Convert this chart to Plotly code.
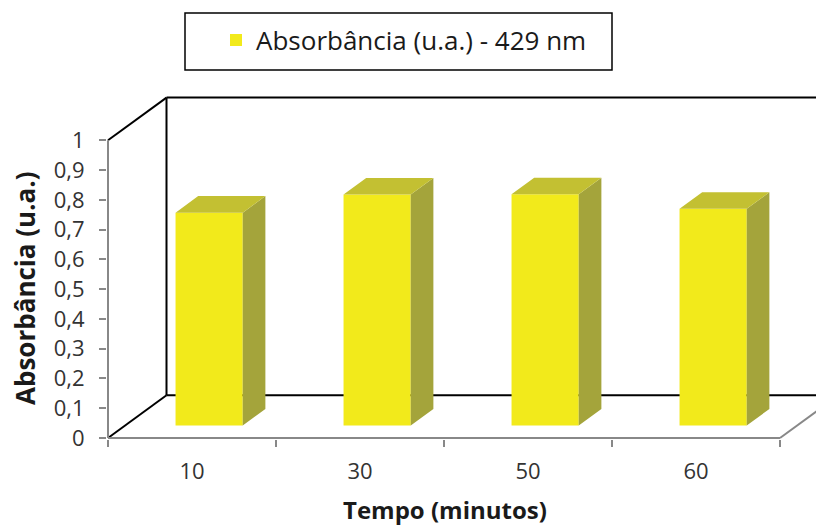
import plotly.graph_objects as go

# data
tempos = ["10", "30", "50", "60"]
absorbancia = [0.715, 0.776, 0.777, 0.728]
y_ticks = [0, 0.1, 0.2, 0.3, 0.4, 0.5, 0.6, 0.7, 0.8, 0.9, 1]
y_labels = ["0", "0,1", "0,2", "0,3", "0,4", "0,5", "0,6", "0,7", "0,8", "0,9", "1"]

# page / plot geometry (px); the html body adds an 8px margin
OFF = 8
W, H = 824 - OFF, 527 - OFF
M_L, M_R, M_T, M_B = 99, 0, 86, 88
PX_X, PX_Y = 168.0, 297.7  # px per category, px per absorbance unit

# oblique projection: depth vector of the full floor, in axis units
DX, DY = 58.5 / PX_X, 42.7 / PX_Y
BAR_W = 0.40
Z0, Z1 = 0.293, 0.68  # bar front / back depth (fraction of floor)

x0 = -0.5 - 1 / PX_X
x1 = x0 + (W - M_L - M_R) / PX_X
y0 = -1 / PX_Y
y1 = y0 + (H - M_T - M_B) / PX_Y

n = len(tempos)
pos = list(range(n))
x_lo, x_hi = -0.5, n - 0.5

FRONT = "#F2EA1B"
TOP = "#C3C032"
SIDE = "#A4A43B"
GRAY = "#888888"
TXT = "#333333"
FONT = "Open Sans"

fig = go.Figure()

# front faces of the bars
xc = [p + Z0 * DX for p in pos]
base = Z0 * DY
fig.add_trace(go.Bar(
    x=xc, y=absorbancia, base=base, width=BAR_W,
    marker=dict(color=FRONT, line=dict(width=0)),
    name="Absorbância (u.a.) - 429 nm", hoverinfo="skip",
))

# top and side faces, projected from the same values
ddx, ddy = (Z1 - Z0) * DX, (Z1 - Z0) * DY
side_x, side_y, top_x, top_y = [], [], [], []
for c, v in zip(xc, absorbancia):
    xl, xr = c - BAR_W / 2, c + BAR_W / 2
    yb, yt = base, base + v
    side_x += [xr, xr, xr + ddx, xr + ddx, xr, None]
    side_y += [yb, yt, yt + ddy, yb + ddy, yb, None]
    top_x += [xl, xr, xr + ddx, xl + ddx, xl, None]
    top_y += [yt, yt, yt + ddy, yt + ddy, yt, None]

fig.add_trace(go.Scatter(x=side_x, y=side_y, fill="toself", fillcolor=SIDE,
                         mode="lines", line=dict(width=0), xaxis="x2",
                         showlegend=False, hoverinfo="skip"))
fig.add_trace(go.Scatter(x=top_x, y=top_y, fill="toself", fillcolor=TOP,
                         mode="lines", line=dict(width=0), xaxis="x2",
                         showlegend=False, hoverinfo="skip"))

# walls and floor edges, behind the bars
def edge(xa, ya, xb, yb, color, w=2):
    fig.add_shape(type="line", xref="x", yref="y", x0=xa, y0=ya, x1=xb, y1=yb,
                  line=dict(color=color, width=w), layer="below")

ytop = y_ticks[-1]
edge(x_lo + DX, DY, x_lo + DX, ytop + DY, "black")          # back wall left
edge(x_lo + DX, ytop + DY, x1 + 1, ytop + DY, "black")      # back wall top
edge(x_lo + DX, DY, x1 + 1, DY, "black")                    # back floor line
edge(x_lo, ytop, x_lo + DX, ytop + DY, "black")             # side wall top
edge(x_lo, 0, x_lo + DX, DY, "black")                       # side floor
edge(x_lo, 0, x_lo, ytop, GRAY)                             # value axis
edge(x_lo, 0, x_hi, 0, GRAY)                                # category axis
edge(x_hi, 0, x_hi + DX, DY, GRAY)                          # floor right edge


# reference-pixel -> paper coordinates
def px_x(p):
    return (p - OFF - M_L) / (W - M_L - M_R)


def px_y(p):
    return (H - M_B - (p - OFF)) / (H - M_T - M_B)


# legend box
fig.add_shape(type="rect", xref="paper", yref="paper",
              x0=px_x(185), x1=px_x(612), y0=px_y(70), y1=px_y(13),
              line=dict(color="black", width=1.5), fillcolor="white")

fig.add_annotation(text="Absorbância (u.a.)", xref="paper", yref="paper",
                   x=px_x(25), y=px_y(289), textangle=-90, showarrow=False,
                   xanchor="center", yanchor="middle",
                   font=dict(family=FONT, size=26, color="#1a1a1a", weight="bold"))
fig.add_annotation(text="Tempo (minutos)", xref="paper", yref="paper",
                   x=px_x(445), y=px_y(509), showarrow=False,
                   xanchor="center", yanchor="middle",
                   font=dict(family=FONT, size=24, color="#1a1a1a", weight="bold"))

fig.update_layout(
    width=W, height=H,
    margin=dict(l=M_L, r=M_R, t=M_T, b=M_B),
    paper_bgcolor="white", plot_bgcolor="white",
    font=dict(family=FONT, color=TXT),
    showlegend=True,
    legend=dict(x=px_x(216), y=px_y(40), xanchor="left", yanchor="middle",
                bgcolor="rgba(0,0,0,0)", borderwidth=0,
                font=dict(family=FONT, size=26, color="#1a1a1a")),
    xaxis=dict(range=[x0, x1], tickvals=pos, ticktext=tempos,
               ticks="outside", ticklen=13, tickcolor="rgba(0,0,0,0)",
               showgrid=False, zeroline=False, showline=False,
               tickfont=dict(size=22, color=TXT), fixedrange=True),
    xaxis2=dict(range=[x0, x1], overlaying="x", anchor="y",
                tickvals=[p - 0.5 for p in pos] + [x_hi],
                ticks="outside", ticklen=7, tickwidth=2, tickcolor=GRAY,
                showticklabels=False, showgrid=False, zeroline=False,
                showline=False, fixedrange=True),
    yaxis=dict(range=[y0, y1], tickvals=y_ticks, ticktext=y_labels,
               ticks="outside", ticklen=7, tickwidth=2, tickcolor=GRAY,
               ticklabelstandoff=10,
               showgrid=False, zeroline=False, showline=False,
               tickfont=dict(size=22, color=TXT), fixedrange=True),
)

fig.write_html("out.html")
